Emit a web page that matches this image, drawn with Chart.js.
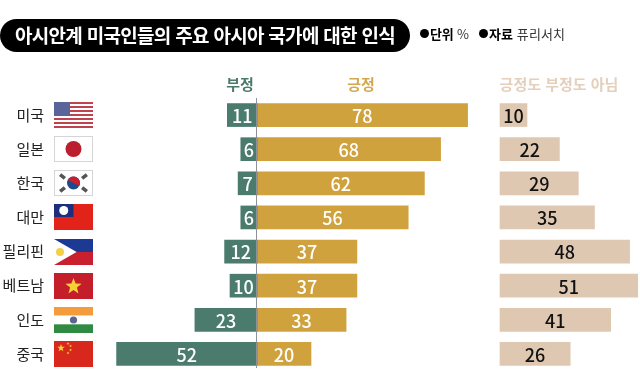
<!DOCTYPE html>
<html lang="ko">
<head>
<meta charset="utf-8">
<title>아시안계 미국인들의 주요 아시아 국가에 대한 인식</title>
<script src="https://cdn.jsdelivr.net/npm/chart.js@4"></script>
<style>
    html, body { margin: 0; padding: 0; background: #fff; }
    body { width: 640px; height: 384px; position: relative; overflow: hidden; font-family: "Noto Sans CJK KR", sans-serif; }
    canvas { position: absolute; left: 0; top: 0; }
    .pill { position: absolute; left: 0; top: 19px; width: 410px; height: 33px; line-height: 32px; background: #000; color: #fff; border-radius: 17px; font-size: 19px; font-weight: 700; text-align: center; letter-spacing: -0.7px; white-space: nowrap; }
    .note { position: absolute; top: 25px; font-size: 13px; line-height: 18px; color: #333; white-space: nowrap; letter-spacing: -0.2px; }
    .note b { color: #000; }
    .note i { display: inline-block; width: 9px; height: 9px; border-radius: 50%; background: #000; margin-right: 1px; vertical-align: 1px; }
    .head { position: absolute; top: 74px; font-size: 15px; line-height: 20px; font-weight: 700; transform: translateX(-50%); white-space: nowrap; }
</style>
</head>
<body>
<canvas id="chart" width="640" height="384"></canvas>
<div class="pill">아시안계 미국인들의 주요 아시아 국가에 대한 인식</div>
<div class="note" style="left:420px"><i></i><b>단위</b> %</div>
<div class="note" style="left:479px;letter-spacing:0.1px"><i></i><b>자료</b> 퓨리서치</div>
<div class="head" style="left:240px;color:#4a7b6c">부정</div>
<div class="head" style="left:361px;color:#d2a94e">긍정</div>
<div class="head" style="left:559px;color:#e3cfbb">긍정도 부정도 아님</div>
<script>
const countries = ['미국', '일본', '한국', '대만', '필리핀', '베트남', '인도', '중국'];
const negative = [11, 6, 7, 6, 12, 10, 23, 52];
const positive = [78, 68, 62, 56, 37, 37, 33, 20];
const neither = [10, 22, 29, 35, 48, 51, 41, 26];
const flags = ['us', 'jp', 'kr', 'tw', 'ph', 'vn', 'in', 'cn'];

const pxPerUnit = 2.7;
const axisWidth = 47;

function star(ctx, cx, cy, r, color) {
    ctx.fillStyle = color;
    ctx.beginPath();
    for (let i = 0; i < 10; i++) {
        const rad = i % 2 ? r * 0.42 : r;
        const a = -Math.PI / 2 + i * Math.PI / 5;
        ctx.lineTo(cx + rad * Math.cos(a), cy + rad * Math.sin(a));
    }
    ctx.closePath();
    ctx.fill();
}

// flags are plain pictures, w x h box with top left at x,y
const flagPainters = {
    us(ctx, x, y, w, h) {
        ctx.fillStyle = '#fff';
        ctx.fillRect(x, y, w, h);
        ctx.fillStyle = '#c0424f';
        for (let i = 0; i < 13; i += 2) ctx.fillRect(x, y + i * h / 13, w, h / 13);
        ctx.fillStyle = '#5a6498';
        ctx.fillRect(x, y, w * 0.41, h * 0.54);
    },
    jp(ctx, x, y, w, h) {
        ctx.fillStyle = '#fff';
        ctx.fillRect(x, y, w, h);
        ctx.strokeStyle = '#d5d5d5';
        ctx.strokeRect(x + 0.5, y + 0.5, w - 1, h - 1);
        ctx.fillStyle = '#bb1e2d';
        ctx.beginPath();
        ctx.arc(x + w / 2, y + h / 2, 8, 0, Math.PI * 2);
        ctx.fill();
    },
    kr(ctx, x, y, w, h) {
        const cx = x + w / 2, cy = y + h / 2;
        ctx.fillStyle = '#fff';
        ctx.fillRect(x, y, w, h);
        ctx.strokeStyle = '#d5d5d5';
        ctx.strokeRect(x + 0.5, y + 0.5, w - 1, h - 1);
        ctx.fillStyle = '#1d4a8f';
        ctx.beginPath();
        ctx.arc(cx, cy, 6.5, 0, Math.PI * 2);
        ctx.fill();
        ctx.fillStyle = '#c8202f';
        ctx.beginPath();
        ctx.arc(cx, cy, 6.5, Math.PI * 1.15, Math.PI * 0.15);
        ctx.fill();
        ctx.fillStyle = '#555';
        [[-11, -6.5, 1], [11, -6.5, -1], [-11, 6.5, -1], [11, 6.5, 1]].forEach(function (b) {
            ctx.save();
            ctx.translate(cx + b[0], cy + b[1]);
            ctx.rotate(b[2] * -0.9);
            ctx.fillRect(-1.8, -3, 3.6, 6);
            ctx.restore();
        });
    },
    tw(ctx, x, y, w, h) {
        ctx.fillStyle = '#e2231a';
        ctx.fillRect(x, y, w, h);
        ctx.fillStyle = '#1c2f7d';
        ctx.fillRect(x, y, w / 2, h / 2);
        ctx.fillStyle = '#fff';
        ctx.beginPath();
        ctx.arc(x + w / 4, y + h / 4, 4.5, 0, Math.PI * 2);
        ctx.fill();
    },
    ph(ctx, x, y, w, h) {
        ctx.fillStyle = '#1c3a94';
        ctx.fillRect(x, y, w, h / 2);
        ctx.fillStyle = '#c8202f';
        ctx.fillRect(x, y + h / 2, w, h / 2);
        ctx.fillStyle = '#fff';
        ctx.beginPath();
        ctx.moveTo(x, y);
        ctx.lineTo(x + h * 0.87, y + h / 2);
        ctx.lineTo(x, y + h);
        ctx.closePath();
        ctx.fill();
        ctx.fillStyle = '#f3cf4a';
        ctx.beginPath();
        ctx.arc(x + 6, y + h / 2, 4, 0, Math.PI * 2);
        ctx.fill();
    },
    vn(ctx, x, y, w, h) {
        ctx.fillStyle = '#c41e2a';
        ctx.fillRect(x, y, w, h);
        star(ctx, x + w / 2, y + h / 2 + 0.5, 8.5, '#f7d038');
    },
    in(ctx, x, y, w, h) {
        ctx.fillStyle = '#f49b3c';
        ctx.fillRect(x, y, w, h / 3);
        ctx.fillStyle = '#fff';
        ctx.fillRect(x, y + h / 3, w, h / 3);
        ctx.fillStyle = '#2f8a44';
        ctx.fillRect(x, y + 2 * h / 3, w, h / 3);
        ctx.fillStyle = '#5c6590';
        ctx.beginPath();
        ctx.arc(x + w / 2, y + h / 2, 3.6, 0, Math.PI * 2);
        ctx.fill();
    },
    cn(ctx, x, y, w, h) {
        ctx.fillStyle = '#d8281d';
        ctx.fillRect(x, y, w, h);
        star(ctx, x + 7, y + 7, 4, '#f7d038');
        [[14, 2.5], [16.5, 5], [16.5, 9], [14, 12]].forEach(function (p) {
            star(ctx, x + p[0], y + p[1], 1.5, '#f7d038');
        });
    }
};

const decorations = {
    id: 'decorations',
    afterDatasetsDraw(chart) {
        const ctx = chart.ctx;
        const y = chart.scales.y;
        const zero = chart.scales.x.getPixelForValue(0);

        // centre line
        ctx.save();
        ctx.strokeStyle = '#8d9298';
        ctx.lineWidth = 1;
        ctx.beginPath();
        ctx.moveTo(zero - 0.5, 98);
        ctx.lineTo(zero - 0.5, 368);
        ctx.stroke();

        // flags
        flags.forEach(function (code, i) {
            flagPainters[code](ctx, 54, Math.round(y.getPixelForValue(i)) - 13, 39, 26);
        });

        // value labels in the middle of each bar
        ctx.textAlign = 'center';
        ctx.textBaseline = 'middle';
        ctx.font = '500 18px "Noto Sans CJK KR", sans-serif';
        chart.data.datasets.forEach(function (ds, d) {
            ctx.fillStyle = d === 2 ? '#111' : '#fff';
            chart.getDatasetMeta(d).data.forEach(function (bar, i) {
                ctx.fillText(Math.abs(ds.data[i]), (bar.x + bar.base) / 2, bar.y + 1);
            });
        });
        ctx.restore();
    }
};

new Chart(document.getElementById('chart'), {
    type: 'bar',
    plugins: [decorations],
    data: {
        labels: countries,
        datasets: [
            { label: '부정', data: negative.map(v => -v), backgroundColor: '#4a7b6c', xAxisID: 'x' },
            { label: '긍정', data: positive, backgroundColor: '#cfa23e', xAxisID: 'x' },
            { label: '긍정도 부정도 아님', data: neither, backgroundColor: '#dfc8b2', xAxisID: 'x2' }
        ]
    },
    options: {
        indexAxis: 'y',
        responsive: false,
        animation: false,
        layout: { padding: { top: 98, bottom: 13, left: 0, right: 0 } },
        datasets: { bar: { grouped: false, barThickness: 23 } },
        plugins: { legend: { display: false }, tooltip: { enabled: false } },
        scales: {
            x: { display: false, min: (axisWidth - 257) / pxPerUnit, max: (640 - 257) / pxPerUnit },
            x2: { display: false, min: (axisWidth - 500) / pxPerUnit, max: (640 - 500) / pxPerUnit },
            y: {
                grid: { display: false, drawTicks: false },
                border: { display: false },
                afterFit(scale) { scale.width = axisWidth; },
                ticks: {
                    padding: 3,
                    autoSkip: false,
                    color: '#222',
                    font: { family: '"Noto Sans CJK KR", sans-serif', size: 15 }
                }
            }
        }
    }
});
</script>
</body>
</html>
